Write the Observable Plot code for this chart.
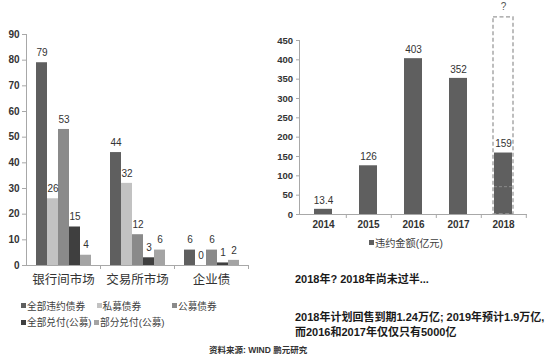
<!DOCTYPE html>
<html><head><meta charset="utf-8">
<script src="https://cdn.jsdelivr.net/npm/d3@7"></script>
<script src="https://cdn.jsdelivr.net/npm/@observablehq/plot@0.6"></script>
<style>
body{margin:0;background:#fff;}
#wrap{position:relative;width:550px;height:354px;overflow:hidden;background:#fff;font-family:"Liberation Sans","Noto Sans CJK SC",sans-serif;}
.abs{position:absolute;white-space:nowrap;display:flex;align-items:center;}
.sw{display:inline-block;width:5px;height:5px;margin-right:1px;}
svg{position:absolute;overflow:visible;}
</style></head><body><div id="wrap"></div>
<script>
// ---------- data ----------
const groups = ["银行间市场", "交易所市场", "企业债"];
const series = ["全部违约债券", "私募债券", "公募债券", "全部兑付(公募)", "部分兑付(公募)"];
const interbankValues = [79, 26, 53, 15, 4];
const exchangeValues = [44, 32, 12, 3, 6];
const enterpriseValues = [6, 0, 6, 1, 2];
const seriesColors = ["#5f5f5f", "#c2c2c2", "#8a8a8a", "#3f3f3f", "#a4a4a4"];
const leftTicks = [0, 10, 20, 30, 40, 50, 60, 70, 80, 90];

const years = ["2014", "2015", "2016", "2017", "2018"];
const defaultAmounts = [13.4, 126, 403, 352, 159];
const amountLabels = ["13.4", "126", "403", "352", "159"];
const rightTicks = [0, 50, 100, 150, 200, 250, 300, 350, 400, 450];
const projectedYear = "2018";
const projectedTop = 510;
const projectedMark = 72;
const legendRight = "违约金额(亿元)";
const note1 = "2018年? 2018年尚未过半...";
const note2 = "2018年计划回售到期1.24万亿; 2019年预计1.9万亿,";
const note3 = "而2016和2017年仅仅只有5000亿";
const source = "资料来源: WIND 鹏元研究";

const groupValues = [interbankValues, exchangeValues, enterpriseValues];
const leftData = groups.flatMap((g, gi) => series.map((s, si) => ({group: g, series: s, value: groupValues[gi][si]})));
const rightData = years.map((y, i) => ({year: y, amount: defaultAmounts[i], label: amountLabels[i]}));

const wrap = document.getElementById("wrap");
const font = '"Liberation Sans","Noto Sans CJK SC",sans-serif';
const axisColor = "#a8a8a8";

// ---------- left chart ----------
const L = {width: 260, height: 290, ml: 26, mr: 12, mt: 34, mb: 25};
const fxHalf = (L.width - L.ml - L.mr) / groups.length / 2;
const left = Plot.plot({
  width: L.width, height: L.height,
  marginLeft: L.ml, marginRight: L.mr, marginTop: L.mt, marginBottom: L.mb,
  style: {fontFamily: font, background: "transparent", overflow: "visible"},
  fx: {domain: groups, padding: 0, label: null},
  x: {domain: series, paddingInner: 0, paddingOuter: 0.8, axis: null},
  y: {domain: [0, 90], label: null},
  color: {domain: series, range: seriesColors},
  marks: [
    Plot.barY(leftData, {fx: "group", x: "series", y: "value", fill: "series"}),
    Plot.ruleY([0], {stroke: axisColor}),
    Plot.frame({anchor: "left", facetAnchor: "left", stroke: axisColor}),
    Plot.axisY({ticks: leftTicks, tickSize: 4, tickPadding: 3, stroke: axisColor, fill: "#333", fontSize: 10, fontWeight: "bold", label: null, facetAnchor: "left"}),
    Plot.axisFx({anchor: "bottom", tickSize: 0, tickPadding: 10, fontSize: 12.5, fill: "#333", label: null}),
    Plot.axisFx({anchor: "bottom", tickSize: 4, tickFormat: () => "", dx: fxHalf, stroke: axisColor, label: null}),
    Plot.text(leftData, {fx: "group", x: "series", y: "value", text: d => String(d.value), dy: -10, fontSize: 10, fill: "#333"})
  ]
});
left.style.left = "0px"; left.style.top = "0px";
wrap.appendChild(left);

// ---------- right chart ----------
const R = {width: 275, height: 236, ml: 24, mr: 23, mt: 40, mb: 22};
const xHalf = (R.width - R.ml - R.mr) / years.length / 2;
const right = Plot.plot({
  width: R.width, height: R.height,
  marginLeft: R.ml, marginRight: R.mr, marginTop: R.mt, marginBottom: R.mb,
  style: {fontFamily: font, background: "transparent", overflow: "visible"},
  x: {domain: years, paddingInner: 0.6, paddingOuter: 0.3, label: null},
  y: {domain: [0, 450], label: null},
  marks: [
    Plot.barY(rightData, {x: "year", y: "amount", fill: "#5f5f5f"}),
    Plot.tickY([{year: projectedYear, v: projectedMark}], {x: "year", y: "v", stroke: "#8a8a8a", strokeDasharray: "3,2", strokeWidth: 1}),
    Plot.barY([{year: projectedYear, top: projectedTop}], {x: "year", y1: 0, y2: "top", fill: "none", stroke: "#9a9a9a", strokeWidth: 1.3, strokeDasharray: "4,2.5", insetLeft: -1, insetRight: -1}),
    Plot.ruleY([0], {stroke: axisColor}),
    Plot.frame({anchor: "left", stroke: axisColor}),
    Plot.axisY({ticks: rightTicks, tickSize: 3, tickPadding: 3.5, stroke: axisColor, fill: "#333", fontSize: 9.5, fontWeight: "bold", label: null}),
    Plot.axisX({anchor: "bottom", tickSize: 0, tickPadding: 6.5, fontSize: 10, fontWeight: "bold", fill: "#333", label: null}),
    Plot.axisX({anchor: "bottom", tickSize: 4, tickFormat: () => "", dx: xHalf, stroke: axisColor, label: null}),
    Plot.text(rightData, {x: "year", y: "amount", text: "label", dy: -9, fontSize: 10, fill: "#333"}),
    Plot.text([{year: projectedYear, top: projectedTop, t: "?"}], {x: "year", y: "top", text: "t", dy: -11, fontSize: 10, fill: "#555"})
  ]
});
right.style.left = "275px"; right.style.top = "0px";
wrap.appendChild(right);

// ---------- HTML texts ----------
function addText(txt, x, cy, size, opts = {}) {
  const d = document.createElement("div");
  d.className = "abs";
  d.style.left = x + "px";
  d.style.top = (cy - 10) + "px";
  d.style.height = "20px";
  d.style.fontSize = size + "px";
  d.style.color = opts.color || "#333";
  d.style.fontWeight = opts.weight || "normal";
  if (opts.swatch) {
    const s = document.createElement("span");
    s.className = "sw";
    s.style.background = opts.swatch;
    d.appendChild(s);
  }
  d.appendChild(document.createTextNode(txt));
  wrap.appendChild(d);
}
// left legend
const legendLayout = [[0, 21, 305.5], [1, 96.5, 305.5], [2, 172, 305.5], [3, 21, 322.3], [4, 94, 322.3]];
legendLayout.forEach(([i, x, cy]) => addText(series[i], x, cy, 9.7, {swatch: seriesColors[i], color: "#404040"}));
// right legend
addText(legendRight, 369, 242.5, 10.2, {swatch: "#5f5f5f", color: "#404040"});
// notes
addText(note1, 295, 278, 11, {weight: "bold", color: "#1a1a1a"});
addText(note2, 295, 316, 11, {weight: "bold", color: "#1a1a1a"});
addText(note3, 295, 330.5, 11, {weight: "bold", color: "#1a1a1a"});
// source
addText(source, 209, 348.5, 8.5, {weight: "bold", color: "#333"});
</script></body></html>
